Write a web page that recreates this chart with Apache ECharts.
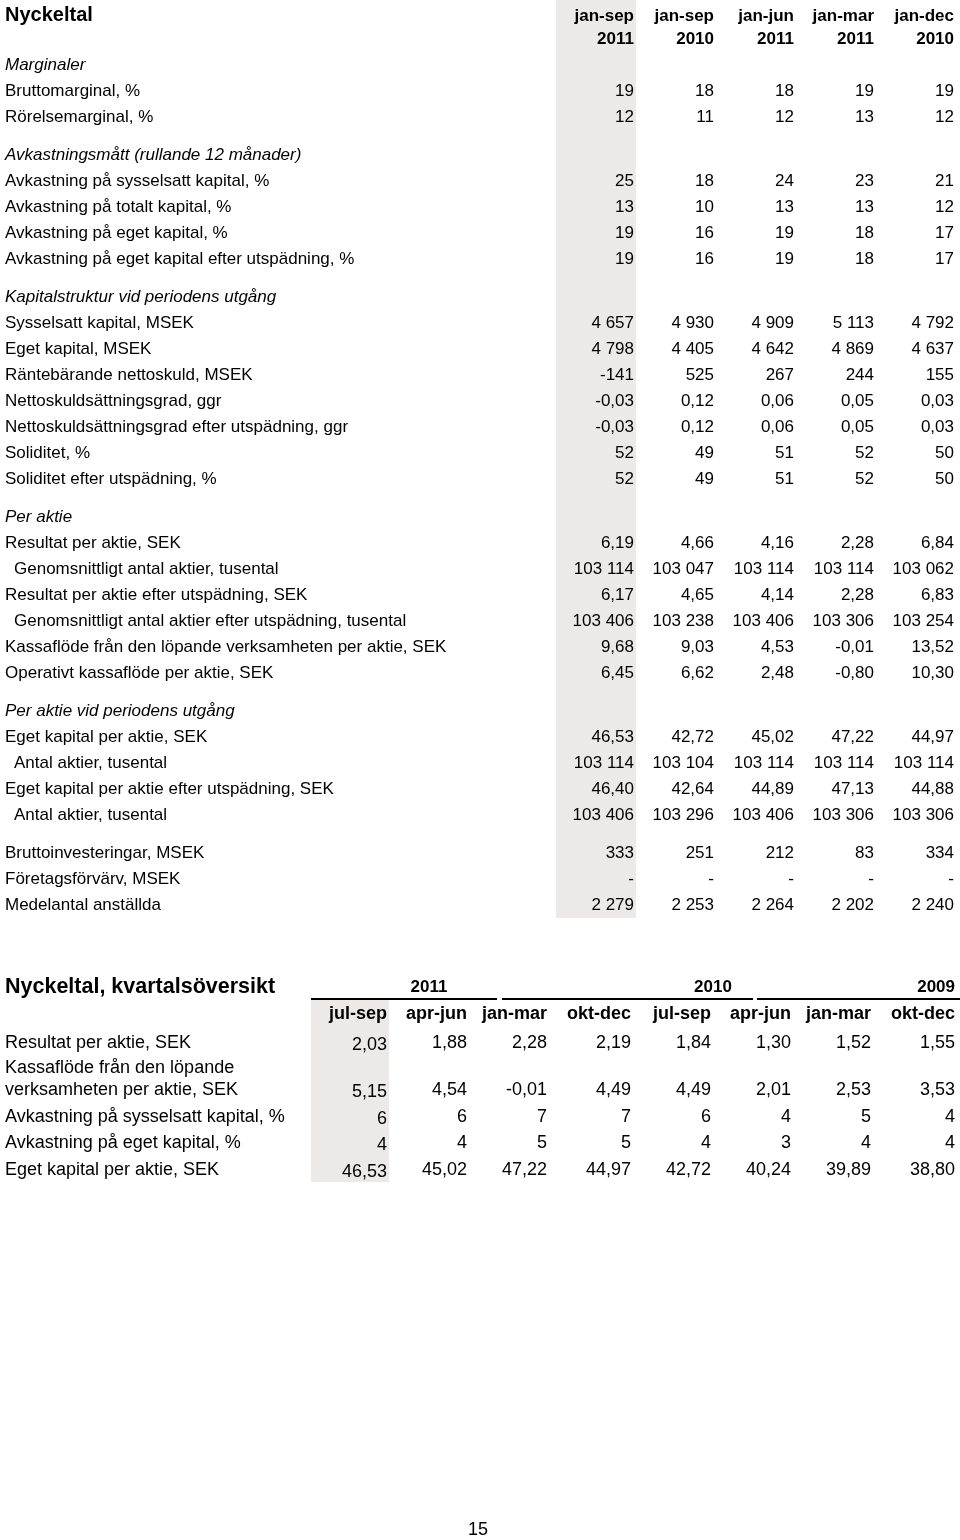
<!DOCTYPE html>
<html><head><meta charset="utf-8">
<script src="https://cdn.jsdelivr.net/npm/echarts@6/dist/echarts.min.js"></script>
<style>html,body{margin:0;padding:0;background:#fff}#c{width:960px;height:1540px}</style>
</head><body><div id="c"></div>
<script>
// ---------- DATA ----------
const periodsA = ['jan-sep','jan-sep','jan-jun','jan-mar','jan-dec'];
const yearsA = ['2011','2010','2011','2011','2010'];

const marginaler = [
  ['Bruttomarginal, %', 0, [19,18,18,19,19]],
  ['Rörelsemarginal, %', 0, [12,11,12,13,12]]
];
const avkastning = [
  ['Avkastning på sysselsatt kapital, %', 0, [25,18,24,23,21]],
  ['Avkastning på totalt kapital, %', 0, [13,10,13,13,12]],
  ['Avkastning på eget kapital, %', 0, [19,16,19,18,17]],
  ['Avkastning på eget kapital efter utspädning, %', 0, [19,16,19,18,17]]
];
const kapitalstruktur = [
  ['Sysselsatt kapital, MSEK', 0, [4657,4930,4909,5113,4792]],
  ['Eget kapital, MSEK', 0, [4798,4405,4642,4869,4637]],
  ['Räntebärande nettoskuld, MSEK', 0, [-141,525,267,244,155]],
  ['Nettoskuldsättningsgrad, ggr', 2, [-0.03,0.12,0.06,0.05,0.03]],
  ['Nettoskuldsättningsgrad efter utspädning, ggr', 2, [-0.03,0.12,0.06,0.05,0.03]],
  ['Soliditet, %', 0, [52,49,51,52,50]],
  ['Soliditet efter utspädning, %', 0, [52,49,51,52,50]]
];
const perAktie = [
  ['Resultat per aktie, SEK', 2, [6.19,4.66,4.16,2.28,6.84]],
  ['Genomsnittligt antal aktier, tusental', 0, [103114,103047,103114,103114,103062]],
  ['Resultat per aktie efter utspädning, SEK', 2, [6.17,4.65,4.14,2.28,6.83]],
  ['Genomsnittligt antal aktier efter utspädning, tusental', 0, [103406,103238,103406,103306,103254]],
  ['Kassaflöde från den löpande verksamheten per aktie, SEK', 2, [9.68,9.03,4.53,-0.01,13.52]],
  ['Operativt kassaflöde per aktie, SEK', 2, [6.45,6.62,2.48,-0.80,10.30]]
];
const perAktieUtgang = [
  ['Eget kapital per aktie, SEK', 2, [46.53,42.72,45.02,47.22,44.97]],
  ['Antal aktier, tusental', 0, [103114,103104,103114,103114,103114]],
  ['Eget kapital per aktie efter utspädning, SEK', 2, [46.40,42.64,44.89,47.13,44.88]],
  ['Antal aktier, tusental', 0, [103406,103296,103406,103306,103306]]
];
const ovrigt = [
  ['Bruttoinvesteringar, MSEK', 0, [333,251,212,83,334]],
  ['Företagsförvärv, MSEK', 0, [null,null,null,null,null]],
  ['Medelantal anställda', 0, [2279,2253,2264,2202,2240]]
];
const sectionsA = [
  ['Marginaler', marginaler],
  ['Avkastningsmått (rullande 12 månader)', avkastning],
  ['Kapitalstruktur vid periodens utgång', kapitalstruktur],
  ['Per aktie', perAktie],
  ['Per aktie vid periodens utgång', perAktieUtgang],
  [null, ovrigt]
];
const indented = ['Genomsnittligt antal aktier, tusental','Genomsnittligt antal aktier efter utspädning, tusental','Antal aktier, tusental'];

const quarters = ['jul-sep','apr-jun','jan-mar','okt-dec','jul-sep','apr-jun','jan-mar','okt-dec'];
const quarterYears = ['2011','2010','2009'];
const kvartal = [
  [['Resultat per aktie, SEK'], 2, [2.03,1.88,2.28,2.19,1.84,1.30,1.52,1.55]],
  [['Kassaflöde från den löpande','verksamheten per aktie, SEK'], 2, [5.15,4.54,-0.01,4.49,4.49,2.01,2.53,3.53]],
  [['Avkastning på sysselsatt kapital, %'], 0, [6,6,7,7,6,4,5,4]],
  [['Avkastning på eget kapital, %'], 0, [4,4,5,5,4,3,4,4]],
  [['Eget kapital per aktie, SEK'], 2, [46.53,45.02,47.22,44.97,42.72,40.24,39.89,38.80]]
];
const pageNumber = '15';

// ---------- RENDER ----------
function fmt(v, d) {
  if (v === null) return '-';
  const s = Math.abs(v).toFixed(d).split('.');
  const i = s[0].replace(/\B(?=(\d{3})+(?!\d))/g, ' ');
  return (v < 0 ? '-' : '') + i + (s[1] ? ',' + s[1] : '');
}
const FF = '"Liberation Sans", Arial, Helvetica, sans-serif';
const g = [];
function txt(t, x, y, font, align) {
  g.push({type:'text', silent:true, style:{text:t, x:x, y:y, font:font, fill:'#000', textAlign:align||'left', textVerticalAlign:'middle'}});
}
function rect(x, y, w, h, c) {
  g.push({type:'rect', silent:true, shape:{x:x,y:y,width:w,height:h}, style:{fill:c}});
}

// Table 1
const colX = [634, 714, 794, 874, 954];
rect(556, 0, 80, 918, '#ebeae9');
txt('Nyckeltal', 5, 15, 'bold 20px ' + FF);
periodsA.forEach((p, i) => { txt(p, colX[i], 16, 'bold 17px ' + FF, 'right'); txt(yearsA[i], colX[i], 39, 'bold 17px ' + FF, 'right'); });
let y = 65;
sectionsA.forEach((sec, si) => {
  if (si > 0) y += 12;
  if (sec[0]) { txt(sec[0], 5, y, 'italic 17px ' + FF); y += 26; }
  sec[1].forEach(r => {
    txt(r[0], indented.indexOf(r[0]) >= 0 ? 14 : 5, y, '17px ' + FF);
    r[2].forEach((v, i) => txt(fmt(v, r[1]), colX[i], y, '17px ' + FF, 'right'));
    y += 26;
  });
});

// Table 2
const qX = [387, 467, 547, 631, 711, 791, 871, 955];
rect(311, 1000, 78, 182, '#ebeae9');
txt('Nyckeltal, kvartalsöversikt', 5, 987, 'bold 21.5px ' + FF);
const yearSpans = [[311, 497], [502, 753], [757, 960]];
const yearLabelX = [[429,'center'], [713,'center'], [955,'right']];
quarterYears.forEach((yr, i) => {
  txt(yr, yearLabelX[i][0], 987, 'bold 17px ' + FF, yearLabelX[i][1]);
  rect(yearSpans[i][0], 998, yearSpans[i][1] - yearSpans[i][0], 2, '#000');
});
quarters.forEach((q, i) => txt(q, qX[i], 1014, 'bold 18px ' + FF, 'right'));
let y2 = 1043;
kvartal.forEach((r, ri) => {
  const lines = r[0];
  let ly = y2;
  lines.forEach((l, li) => { txt(l, 5, ly + li * 22, '18px ' + FF); });
  const vy = ly + (lines.length - 1) * 22;
  r[2].forEach((v, i) => txt(fmt(v, r[1]), qX[i], vy + (i === 0 ? 2 : 0), '18px ' + FF, 'right'));
  y2 = vy + (ri === 0 ? 25 : 26.7);
});

txt(pageNumber, 478, 1530, '18px ' + FF, 'center');

const chart = echarts.init(document.getElementById('c'), null, {renderer:'canvas'});
chart.setOption({animation:false, backgroundColor:'#fff', graphic:{elements:g}});
</script>
</body></html>
